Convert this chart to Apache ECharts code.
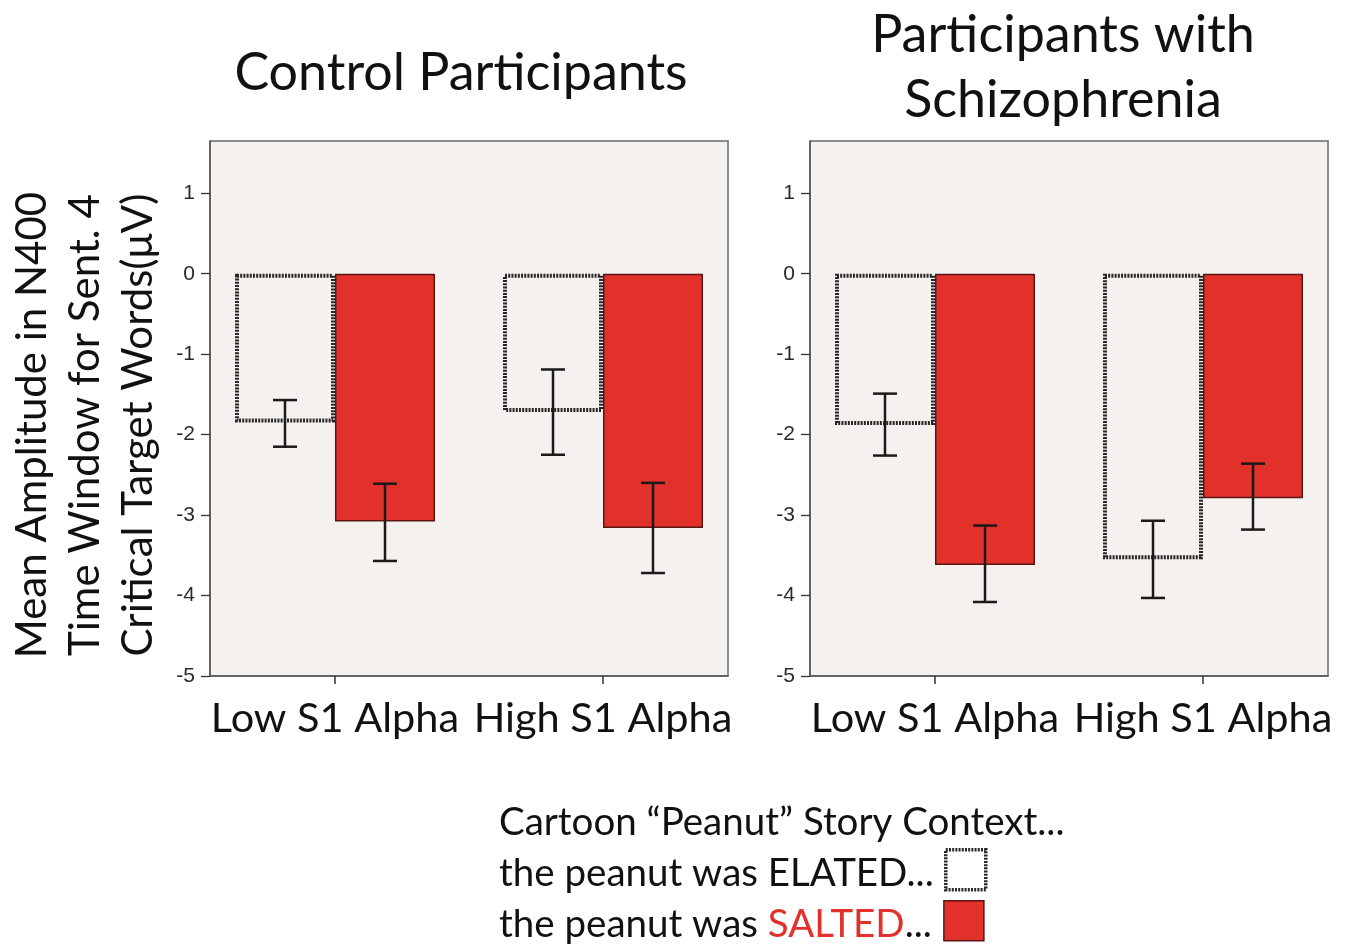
<!DOCTYPE html>
<html><head><meta charset="utf-8">
<script src="https://cdn.jsdelivr.net/npm/echarts@6/dist/echarts.min.js"></script>
<style>html,body{margin:0;padding:0;background:#fff}#c{width:1368px;height:944px}</style>
</head><body><div id="c"></div>
<script>
// ---- data ----
const categories = ['Low S1 Alpha', 'High S1 Alpha'];
const categoryPos = [0, 1];
const yTicks = [-5, -4, -3, -2, -1, 0, 1];
const panelTitles = ['Control Participants', 'Participants with\nSchizophrenia'];
const seriesNames = ['the peanut was ELATED...', 'the peanut was SALTED...'];
const legendTitle = 'Cartoon \u201CPeanut\u201D Story Context...';
const yAxisTitle = 'Mean Amplitude in N400\nTime Window for Sent. 4\nCritical Target Words(\u03BCV)';

const controlElated = [-1.85, -1.72];
const controlElatedErr = [[-2.15, -1.57], [-2.25, -1.19]];
const controlSalted = [-3.08, -3.16];
const controlSaltedErr = [[-3.57, -2.61], [-3.72, -2.60]];

const schizElated = [-1.88, -3.55];
const schizElatedErr = [[-2.26, -1.49], [-4.03, -3.07]];
const schizSalted = [-3.62, -2.79];
const schizSaltedErr = [[-4.08, -3.13], [-3.18, -2.36]];

// ---- styling ----
const FONT = 'Lato';
const RED = '#e2302b';
const BAR_W = 100;
const CAP = 12;
const X_PAD = 0.4664; // axis padding around the two category positions

const chart = echarts.init(document.getElementById('c'), null, {renderer: 'canvas'});

function xAxisCfg(i) {
  return {
    type: 'value', gridIndex: i, min: categoryPos[0] - X_PAD, max: categoryPos[1] + X_PAD,
    axisLine: {show: true, onZero: false, lineStyle: {color: '#555', width: 1.5}},
    axisTick: {show: true, customValues: categoryPos, length: 8, lineStyle: {color: '#333', width: 1.5}},
    axisLabel: {customValues: categoryPos, formatter: v => categories[categoryPos.indexOf(v)],
                fontFamily: FONT, fontSize: 41.5, color: '#111', margin: 22},
    splitLine: {show: false}
  };
}
function yAxisCfg(i) {
  return {
    type: 'value', gridIndex: i, min: -5, max: 1.65,
    axisLine: {show: true, onZero: false, lineStyle: {color: '#555', width: 1.5}},
    axisTick: {show: true, length: 9, customValues: yTicks, lineStyle: {color: '#333', width: 1.3}},
    axisLabel: {customValues: yTicks, fontFamily: 'Liberation Sans', fontSize: 21, color: '#2a2a2a', margin: 15},
    splitLine: {show: false}
  };
}
const elatedStyle = {color: 'rgba(0,0,0,0)', borderColor: '#262626', borderWidth: 4, borderType: [2, 1.2]};
const saltedStyle = {color: RED, borderColor: '#5a1614', borderWidth: 1.5};
function elatedSeries(data, i) {
  return {
    type: 'bar', name: seriesNames[0], xAxisIndex: i, yAxisIndex: i,
    data: data.map((v, k) => [categoryPos[k], v]),
    barWidth: BAR_W, barGap: '0%', itemStyle: elatedStyle, z: 2
  };
}
function saltedSeries(data, i) {
  return {
    type: 'bar', name: seriesNames[1], xAxisIndex: i, yAxisIndex: i,
    data: data.map((v, k) => [categoryPos[k], v]),
    barWidth: BAR_W, barGap: '0%', itemStyle: saltedStyle, z: 3
  };
}
function errSeries(err, sign, i) {
  return {
    type: 'custom', xAxisIndex: i, yAxisIndex: i, z: 5, silent: true,
    data: err.map((e, k) => [categoryPos[k], e[0], e[1]]),
    encode: {x: 0, y: [1, 2]},
    renderItem: function (params, api) {
      const x = api.value(0);
      const lo = api.coord([x, api.value(1)]);
      const hi = api.coord([x, api.value(2)]);
      const cx = lo[0] + sign * BAR_W / 2;
      const st = {stroke: '#1a1a1a', lineWidth: 2.5};
      return {
        type: 'group', children: [
          {type: 'line', shape: {x1: cx, y1: lo[1], x2: cx, y2: hi[1]}, style: st},
          {type: 'line', shape: {x1: cx - CAP, y1: lo[1], x2: cx + CAP, y2: lo[1]}, style: st},
          {type: 'line', shape: {x1: cx - CAP, y1: hi[1], x2: cx + CAP, y2: hi[1]}, style: st}
        ]
      };
    }
  };
}

const gridBase = {top: 141, height: 535, width: 518, show: true, backgroundColor: '#f4f1ef',
                  borderColor: '#6a6a6a', borderWidth: 1.5};

const legendText = {fontFamily: FONT, fontSize: 38.5, color: '#111', padding: [8, 7, 0, 0],
                    rich: {r: {fontFamily: FONT, fontSize: 38.5, color: RED}}};
const legendIconStyles = [
  {color: '#ffffff', borderColor: '#262626', borderWidth: 3.5, borderType: [2, 1.2]},
  saltedStyle
];
function legendCfg(k, top) {
  return {
    left: 499, top: top, orient: 'vertical', align: 'right', padding: 0,
    icon: 'rect', itemWidth: 40, itemHeight: 40,
    data: [{name: seriesNames[k], itemStyle: legendIconStyles[k]}],
    formatter: n => n.replace('SALTED', '{r|SALTED}'),
    textStyle: legendText
  };
}

const option = {
  backgroundColor: '#ffffff',
  animation: false,
  title: [
    {text: panelTitles[0], left: 461, top: 41, padding: 0, textAlign: 'center',
     textStyle: {fontFamily: FONT, fontSize: 52, fontWeight: 'normal', color: '#111', lineHeight: 65}},
    {text: panelTitles[1], left: 1063, top: 3, padding: 0, textAlign: 'center',
     textStyle: {fontFamily: FONT, fontSize: 52, fontWeight: 'normal', color: '#111', lineHeight: 65}},
    {text: legendTitle, left: 499, top: 803, padding: 0,
     textStyle: {fontFamily: FONT, fontSize: 38.5, fontWeight: 'normal', color: '#111'}}
  ],
  legend: [legendCfg(0, 848), legendCfg(1, 900)],
  graphic: [{
    type: 'text', x: 85, y: 425, rotation: Math.PI / 2,
    style: {text: yAxisTitle, fontFamily: FONT, fontSize: 42, fill: '#111', lineHeight: 53,
            align: 'center', verticalAlign: 'middle'}
  }],
  grid: [
    Object.assign({left: 210}, gridBase),
    Object.assign({left: 810}, gridBase)
  ],
  xAxis: [xAxisCfg(0), xAxisCfg(1)],
  yAxis: [yAxisCfg(0), yAxisCfg(1)],
  series: [
    elatedSeries(controlElated, 0), saltedSeries(controlSalted, 0),
    errSeries(controlElatedErr, -1, 0), errSeries(controlSaltedErr, 1, 0),
    elatedSeries(schizElated, 1), saltedSeries(schizSalted, 1),
    errSeries(schizElatedErr, -1, 1), errSeries(schizSaltedErr, 1, 1)
  ]
};
chart.setOption(option);
</script>
</body></html>
